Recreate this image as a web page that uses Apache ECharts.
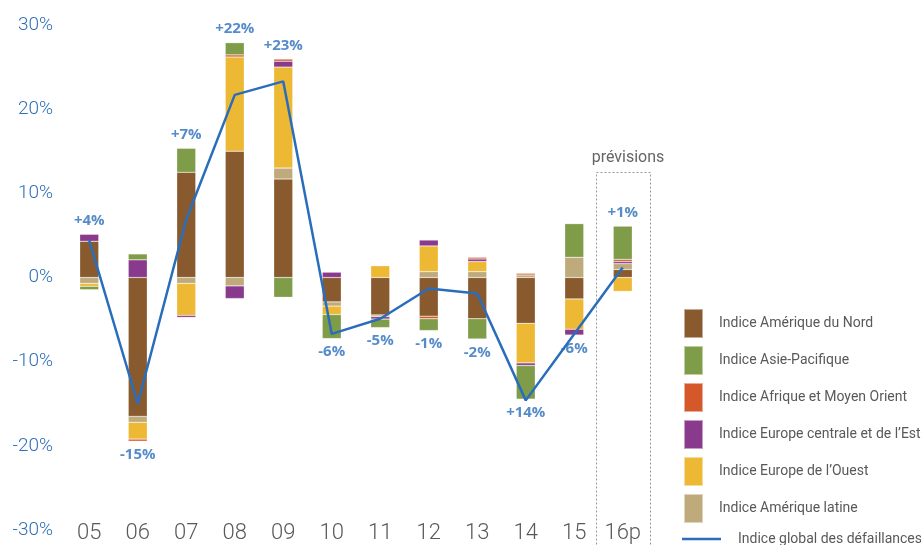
<!DOCTYPE html>
<html>
<head>
<meta charset="utf-8">
<script src="https://cdn.jsdelivr.net/npm/echarts@6/dist/echarts.min.js"></script>
<style>
  html, body { margin: 0; padding: 0; background: #fff; }
  #main { width: 921px; height: 545px; }
</style>
</head>
<body>
<div id="main"></div>
<script>
var years = ['05', '06', '07', '08', '09', '10', '11', '12', '13', '14', '15', '16p'];
var ameriqueNord = [4.3, -16.5, 12.5, 15.0, 11.7, -2.9, -4.45, -4.6, -4.9, -5.45, -2.55, 0.95];
var ameriqueLatine = [-0.7, -0.7, -0.7, -1.0, 1.3, -0.5, -0.2, 0.7, 0.7, 0.3, 2.4, 0.7];
var europeOuest = [-0.35, -2.0, -3.8, 11.2, 12.0, -1.0, 1.4, 3.05, 1.2, -4.7, -3.6, -1.65];
var europeCentrale = [0.85, 2.1, -0.25, -1.5, 0.7, 0.65, -0.3, 0.7, 0.3, -0.3, -0.7, 0.25];
var afriqueMO = [0, -0.25, 0, 0.25, 0.25, 0, 0, -0.3, 0.2, 0.2, 0, 0.25];
var asiePacifique = [-0.4, 0.7, 2.85, 1.45, -2.35, -2.85, -1.0, -1.4, -2.4, -4.0, 4.0, 3.95];
var indiceGlobal = [4.4, -15.0, 6.9, 21.7, 23.3, -6.7, -4.9, -1.3, -1.9, -14.6, -6.7, 1.2];
var labelTexts = ['+4%', '-15%', '+7%', '+22%', '+23%', '-6%', '-5%', '-1%', '-2%', '+14%', '-6%', '+1%'];
var labelSides = ['top', 'bottom', 'top', 'top', 'top', 'bottom', 'bottom', 'bottom', 'bottom', 'bottom', 'bottom', 'top'];
var yTicks = [-30, -20, -10, 0, 10, 20, 30];

// stacking order from zero outwards
var barSeries = [
  { name: 'Indice Amérique du Nord', data: ameriqueNord, color: '#885a2e' },
  { name: 'Indice Amérique latine', data: ameriqueLatine, color: '#bfaa7c' },
  { name: "Indice Europe de l’Ouest", data: europeOuest, color: '#edb834' },
  { name: 'Indice Europe centrale et de l’Est', data: europeCentrale, color: '#8a3a8c' },
  { name: 'Indice Afrique et Moyen Orient', data: afriqueMO, color: '#d4582a' },
  { name: 'Indice Asie-Pacifique', data: asiePacifique, color: '#7f9c48' }
];
// legend order as in the reference
var legendOrder = [
  'Indice Amérique du Nord',
  'Indice Asie-Pacifique',
  'Indice Afrique et Moyen Orient',
  'Indice Europe centrale et de l’Est',
  "Indice Europe de l’Ouest",
  'Indice Amérique latine'
];

// where each percentage label sits: top of the positive stack or bottom of the negative one
var labelAnchor = years.map(function (y, i) {
  var pos = 0, neg = 0;
  barSeries.forEach(function (s) {
    if (s.data[i] > 0) pos += s.data[i]; else neg += s.data[i];
  });
  return labelSides[i] === 'top' ? pos : neg;
});

var chart = echarts.init(document.getElementById('main'));
var series = barSeries.map(function (s) {
  return {
    name: s.name,
    type: 'bar',
    stack: 'total',
    barWidth: 19,
    data: s.data,
    itemStyle: { color: s.color, borderColor: 'rgba(255,255,255,0.5)', borderWidth: 0.5 }
  };
});
series.push({
  name: 'Indice global des défaillances',
  type: 'line',
  data: indiceGlobal,
  symbol: 'none',
  z: 5,
  lineStyle: { color: '#2a6ebb', width: 2.5 },
  itemStyle: { color: '#2a6ebb' }
});
series.push({
  name: 'labels',
  type: 'scatter',
  symbolSize: 0,
  silent: true,
  z: 6,
  data: labelAnchor.map(function (v, i) {
    return {
      value: v,
      label: { position: labelSides[i], formatter: labelTexts[i] }
    };
  }),
  label: {
    show: true,
    distance: 6,
    color: '#2a6ebb',
    fontFamily: 'Open Sans',
    fontWeight: 'bold',
    fontSize: 15
  }
});

var option = {
  animation: false,
  grid: { left: 65, right: 274, top: 25, bottom: 15 },
  legend: [
    {
      orient: 'vertical',
      left: 683,
      top: 308,
      padding: 0,
      icon: 'rect',
      itemWidth: 19,
      itemHeight: 29,
      itemGap: 6,
      selectedMode: false,
      data: legendOrder,
      textStyle: { color: '#595959', fontFamily: 'Roboto', fontSize: 14, padding: [0, 0, 0, 11] }
    },
    {
      orient: 'vertical',
      left: 682,
      top: 532,
      padding: 0,
      itemWidth: 39,
      itemHeight: 14,
      selectedMode: false,
      data: [{
        name: 'Indice global des défaillances',
        icon: 'path://M0,6 L40,6 L40,8.5 L0,8.5 Z'
      }],
      itemStyle: { color: '#2a6ebb' },
      textStyle: { color: '#595959', fontFamily: 'Roboto', fontSize: 14, padding: [0, 0, 0, 12] }
    }
  ],
  xAxis: {
    type: 'category',
    data: years,
    offset: -8,
    axisLine: { show: false },
    axisTick: { show: false },
    axisLabel: { color: '#595959', fontFamily: 'Roboto', fontWeight: 300, fontSize: 22, margin: 0 }
  },
  yAxis: {
    type: 'value',
    min: yTicks[0],
    max: yTicks[yTicks.length - 1],
    interval: 10,
    axisLine: { show: false },
    axisTick: { show: false },
    splitLine: { show: false },
    axisLabel: { color: '#2f6fb7', fontFamily: 'Roboto', fontWeight: 300, fontSize: 19, margin: 12, formatter: '{value}%' }
  },
  graphic: [
    {
      type: 'rect',
      shape: { x: 596.5, y: 172.5, width: 54, height: 380 },
      style: { fill: 'none', stroke: '#999', lineWidth: 1, lineDash: [2, 2] }
    },
    {
      type: 'text',
      x: 628,
      y: 158,
      style: { text: 'prévisions', fill: '#666', font: '16px Roboto', align: 'center', verticalAlign: 'middle' }
    }
  ],
  series: series
};
chart.setOption(option);
</script>
</body>
</html>
